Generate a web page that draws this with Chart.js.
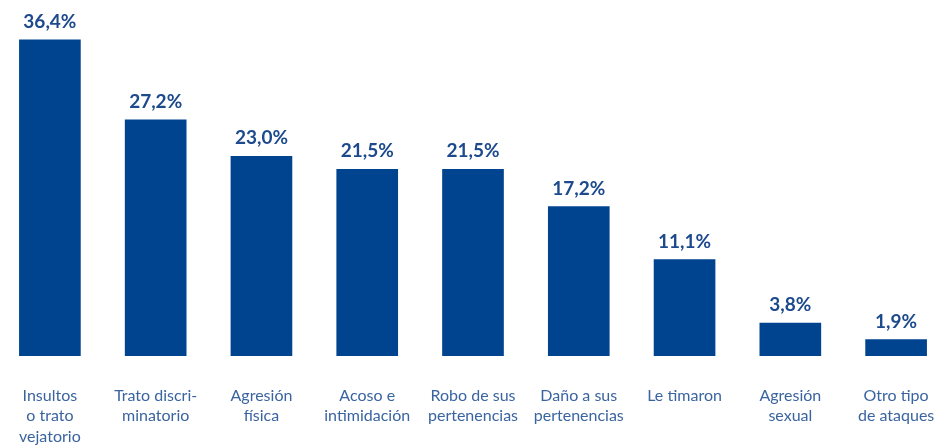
<!DOCTYPE html>
<html>
<head>
<meta charset="utf-8">
<script src="https://cdn.jsdelivr.net/npm/chart.js@4/dist/chart.umd.min.js"></script>
<style>
  html, body { margin: 0; padding: 0; background: #fff; overflow: hidden; }
  #chart { position: absolute; left: -3px; top: 0; }
</style>
</head>
<body>
<canvas id="chart" width="952" height="445"></canvas>
<script>
// categories and values
const categories = [
  ['Insultos', 'o trato', 'vejatorio'],
  ['Trato discri-', 'minatorio'],
  ['Agresión', 'física'],
  ['Acoso e', 'intimidación'],
  ['Robo de sus', 'pertenencias'],
  ['Daño a sus', 'pertenencias'],
  ['Le timaron'],
  ['Agresión', 'sexual'],
  ['Otro tipo', 'de ataques']
];
const values = [36.4, 27.2, 23.0, 21.5, 21.5, 17.2, 11.1, 3.8, 1.9];

const barColor = '#00448f';
const labelColor = '#3a64a0';

// value labels above bars, spanish decimal comma
const valueLabels = {
  id: 'valueLabels',
  afterDatasetsDraw(chart) {
    const ctx = chart.ctx;
    const meta = chart.getDatasetMeta(0);
    ctx.save();
    ctx.font = 'bold 19px Lato';
    ctx.fillStyle = '#1d4a8c';
    ctx.textAlign = 'center';
    ctx.textBaseline = 'middle';
    meta.data.forEach((bar, i) => {
      const txt = values[i].toFixed(1).replace('.', ',') + '%';
      ctx.fillText(txt, bar.x, bar.y - 18);
    });
    ctx.restore();
  }
};

new Chart(document.getElementById('chart'), {
  type: 'bar',
  data: {
    labels: categories,
    datasets: [{
      data: values,
      backgroundColor: barColor,
      barThickness: 61
    }]
  },
  options: {
    responsive: false,
    animation: false,
    layout: { padding: 0 },
    plugins: {
      legend: { display: false },
      tooltip: { enabled: false }
    },
    scales: {
      x: {
        grid: { display: false, drawTicks: false },
        border: { display: false },
        ticks: {
          color: labelColor,
          font: { family: 'Lato', size: 16, lineHeight: 1.3 },
          padding: 29,
          maxRotation: 0,
          autoSkip: false
        },
        afterFit(axis) {
          axis.height = 89;
          axis.paddingLeft = 0;
          axis.paddingRight = 0;
        }
      },
      y: {
        display: false,
        min: 0,
        max: 41
      }
    }
  },
  plugins: [valueLabels]
});
</script>
</body>
</html>
